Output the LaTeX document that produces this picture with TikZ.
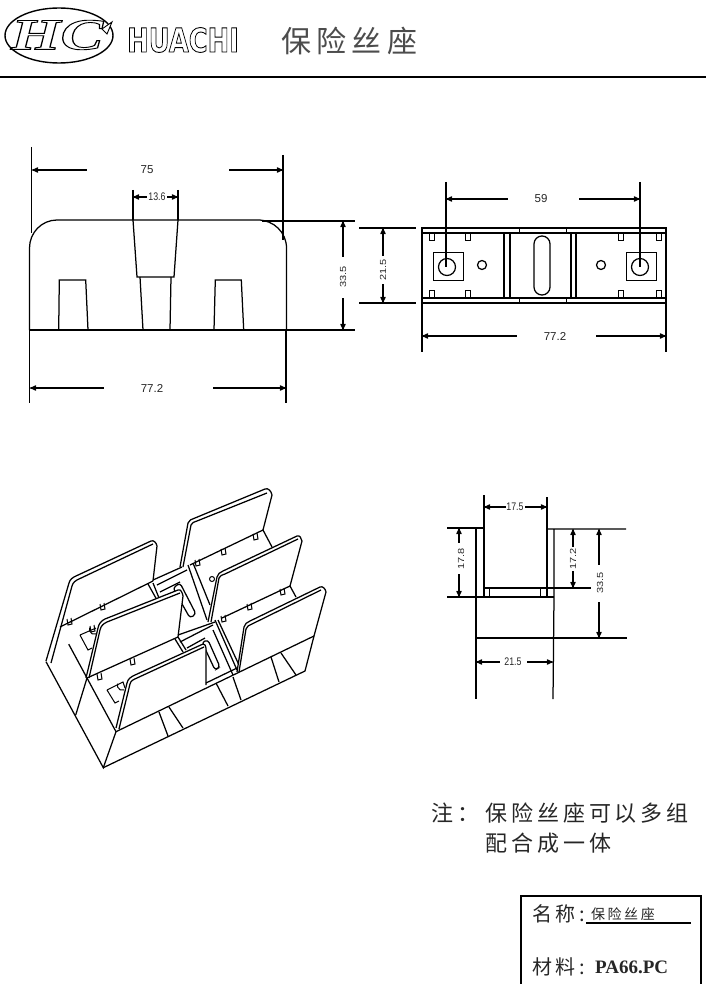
\documentclass[tikz,border=0pt]{standalone}
\usepackage{fontspec}
\setmainfont{Liberation Sans}
\newfontfamily\cjk[LetterSpace=18]{Noto Sans CJK SC}
\newfontfamily\serifb{Liberation Serif}
\newfontfamily\heavy{DejaVu Sans}
\usetikzlibrary{arrows}
\newcommand{\outl}[2]{\special{pdf:code q 1 Tr #1 w}#2\special{pdf:code Q}}

\begin{document}
\begin{tikzpicture}[x=1pt,y=-1pt,
    l/.style={line width=1.25pt},%
    t/.style={line width=1pt},%
    pl/.style={line width=1.25pt,fill=white},%
    f/.style={<-,line width=1.2pt,>=stealth'},%
    dim/.style={font=\fontsize{11.5}{12}\selectfont,text=black!85,inner sep=0pt},%
    dims/.style={font=\fontsize{11}{12}\selectfont,text=black!85,inner sep=0pt,xscale=0.8},%
    zh/.style={font=\cjk,inner sep=0pt,anchor=west,text=black!85}]
    \useasboundingbox (0,0) rectangle (706,984);
    % head
    \draw[line width=1.4pt] (59,35.5) ellipse (54 and 27.5);
    \node[inner sep=0pt,font=\serifb\bfseries\itshape\fontsize{44}{44}\selectfont,xscale=1.45] (hc) at (57,35) {\outl{0.9}{HC}};
    \draw[line width=0.9pt,fill=white] (102,29) -- (112,22) -- (107,34) -- cycle;
    \node[inner sep=0pt,font=\heavy\bfseries\fontsize{33}{33}\selectfont,xscale=0.78] (brand) at (183,40) {\outl{0.9}{HUACHI}};
    \node[zh,text=black!70,font=\cjk\fontsize{30}{30}\selectfont] (title) at (281,41) {保险丝座};
    \draw[line width=1.6pt] (0,77) -- (706,77);

    % front view
    \draw[l] (29.5,330) -- (29.5,248) to[out=90,in=180] (57,220) -- (258,220) to[out=0,in=90] (286.5,248) -- (286.5,330);
    \draw[l] (30,330) -- (355,330);
    \draw[l] (262,221) -- (355,221);
    \draw[l] (133,220) -- (137,277) -- (174,277) -- (178,220);
    \draw[l] (140,277) -- (143,330) (171,277) -- (170,330);
    \draw[l] (58.7,330) -- (59.3,280) -- (85.7,280) -- (88,330);
    \draw[l] (214,330) -- (215.3,280) -- (241.3,280) -- (243.7,330);
    \draw[l] (31.7,147) -- (31.7,233) (283,155) -- (283,240);
    \draw[l] (133,190) -- (133,220) (178,190) -- (178,220);
    \draw[l] (29.5,330) -- (29.5,403) (286,330) -- (286,403);
    \node[dim] (w75) at (147,170) {75};
    \draw[f] (32,170) -- (87,170);
    \draw[f] (283,170) -- (229,170);
    \node[dims] (w136) at (157,197) {13.6};
    \draw[f] (133,197) -- (147,197);
    \draw[f] (178,197) -- (167,197);
    \node[dim] (w772) at (152,388) {77.2};
    \draw[f] (30,388) -- (104,388);
    \draw[f] (286,388) -- (213,388);
    \node[dims,rotate=90] (h335) at (343,277) {33.5};
    \draw[f] (343,221) -- (343,257);
    \draw[f] (343,330) -- (343,298);
    \node[dims,rotate=90] (h215) at (383,270) {21.5};
    \draw[f] (383,228) -- (383,256);
    \draw[f] (383,303) -- (383,284);
    \draw[l] (359,228) -- (416,228) (359,303) -- (416,303);

    % top view
    \draw[l] (422,228) rectangle (666,303);
    \draw[l] (422,233) -- (666,233) (422,298) -- (666,298);
    \draw[t] (519,228) -- (519,233) (566,228) -- (566,233) (519,298) -- (519,303) (566,298) -- (566,303);
    \draw[l] (504,233) -- (504,298) (510,233) -- (510,298) (571,233) -- (571,298) (576,233) -- (576,298);
    \draw[l,rounded corners=7.9pt] (534,236) rectangle (550,295);
    \foreach \x in {429,465,618,656} {
      \draw[t] (\x,233) rectangle ++(5.5,7);
      \draw[t] (\x,290.5) rectangle ++(5.5,7);
    }
    \draw[t] (433,252) rectangle (463,280) (626,252) rectangle (656,280);
    \draw[l] (447,267) circle (8.5) (640,267) circle (8.5);
    \draw[l] (482,265) circle (4.5) (601,265) circle (4.5);
    \draw[l] (446,182) -- (446,267) (640,182) -- (640,267);
    \draw[l] (422,303) -- (422,352) (666,303) -- (666,352);
    \node[dim] (d59) at (541,199) {59};
    \draw[f] (446,199) -- (508,199);
    \draw[f] (640,199) -- (579,199);
    \node[dim] (t772) at (555,336) {77.2};
    \draw[f] (422,336) -- (517,336);
    \draw[f] (666,336) -- (596,336);

    % side view
    \draw[l] (447,528) -- (484,528) (484,495) -- (484,597) -- (547,597) (547,497) -- (547,597);
    \draw[l] (476,528) -- (476,699);
    \draw[l] (547,529) -- (626,529) (554,529) -- (554,597) -- (553,699);
    \draw[l] (447,597) -- (554,597) (484,588) -- (591,588);
    \draw[t] (489,588) -- (489,597) (540,588) -- (540,597);
    \draw[l] (476,638) -- (627,638);
    \node[dims] (s175) at (515,507) {17.5};
    \draw[f] (484,507) -- (506,507);
    \draw[f] (547,507) -- (525,507);
    \node[dims,rotate=90] (s178) at (461,559) {17.8};
    \draw[f] (459,528) -- (459,543);
    \draw[f] (459,597) -- (459,574);
    \node[dims,rotate=90] (s172) at (573,559) {17.2};
    \draw[f] (573,529) -- (573,547);
    \draw[f] (573,588) -- (573,571);
    \node[dims,rotate=90] (s335) at (600,583) {33.5};
    \draw[f] (599,529) -- (599,565);
    \draw[f] (599,638) -- (599,602);
    \node[dims] (s215) at (513,662) {21.5};
    \draw[f] (476,662) -- (500,662);
    \draw[f] (553,662) -- (527,662);

    % perspective view, base
    \draw[l] (46,661.7) -- (103.3,767.7) -- (116,731.7);
    \draw[l] (103.3,767.7) -- (305,671) -- (314,636);
    \draw[l] (60,628) -- (87,678) -- (116,731.7);
    \draw[l] (87,678) -- (75.7,715);
    \draw[l] (159,712) -- (168,736) (169,707) -- (183,728);
    \draw[l] (216,683) -- (228,706) (233,677) -- (241,700);
    \draw[l] (271,657) -- (279,682) (281,653) -- (296,675);

    % back plates and back slot
    \draw[pl] (180,567) -- (188,523) to[out=78,in=205] (195,518) -- (265,489) to[out=25,in=100] (272,495) -- (263,530);
    \draw[l] (183,567) -- (191,525) to[out=78,in=205] (197,521) -- (267,493);
    \draw[l] (190,565) -- (263,530) -- (272,547);
    \draw[pl] (46,661) -- (69,583) to[out=75,in=205] (76,576) -- (151,541) to[out=25,in=100] (157,546) -- (153,581);
    \draw[l] (51,663) -- (72,586) to[out=75,in=205] (79,579) -- (153,544);
    \draw[l] (60,627) -- (153,581);
    \draw[l] (148,584) -- (157,600) (153,583) -- (159,598);
    \draw[l] (153,580) -- (182,567) (157,585) -- (187,570) (160,592) -- (180,582);
    \draw[l] (188,565) -- (207,620) (193,563) -- (210,605);
    \draw[l,rounded corners=3pt] (173,588) -- (190,618) -- (196,614) -- (180,583) -- cycle;

    % middle plates
    \draw[pl] (208,622) -- (217,577) to[out=78,in=205] (223,571) -- (297,536) to[out=25,in=100] (302,541) -- (290,586);
    \draw[l] (211,622) -- (219,578) to[out=78,in=205] (225,574) -- (298,539);
    \draw[l] (222,618) -- (290,586) -- (296,597);
    \draw[pl] (86,678) -- (98,628) to[out=78,in=205] (105,619) -- (178,590) to[out=25,in=100] (183,596) -- (178,637);
    \draw[l] (89,678) -- (100,630) to[out=78,in=205] (107,622) -- (180,593);
    \draw[l] (87,678) -- (178,637);

    % front slot
    \draw[l] (175,639) -- (183,652) (178,637) -- (186,650);
    \draw[l] (178,635) -- (215,622) (180,642) -- (213,625) (187,648) -- (205,638);
    \draw[l] (215,620) -- (237,670) (218,620) -- (239,665) (213,630) -- (233,675);
    \draw[l,rounded corners=3pt] (202,642) -- (215,670) -- (220,667) -- (208,640) -- cycle;

    % front plates
    \draw[pl] (237,672) -- (244,627) to[out=78,in=205] (250,621) -- (320,587) to[out=25,in=100] (326,592) -- (314,636);
    \draw[l] (239,672) -- (246,629) to[out=78,in=205] (252,624) -- (321,590);
    \draw[pl] (116,728) -- (127,683) to[out=78,in=205] (135,675) -- (203,644) to[out=25,in=100] (206,648) -- (206,685);
    \draw[l] (119,729) -- (130,684) to[out=78,in=205] (137,678) -- (204,647);
    \draw[l] (206,683) -- (237,668);
    \draw[l] (116,731.7) -- (314,636);

    % tabs, squares
    \foreach \x/\y in {69/622,102/607,92/629,99/677,132/662,197/563,223/552,255/537,223/619,249/607,282/592} {
      \draw[t] (\x-2,\y-3) -- (\x-1,\y+3) -- (\x+3,\y+2) -- (\x+2,\y-4);
    }
    \draw[t] (107,690) -- (123,682) -- (125,688) (107,690) -- (115,703) -- (119,701);
    \draw[t] (80,635) -- (96,628) (80,635) -- (88,650) -- (92,648);
    \draw[t] (124,690) arc (70:200:5) (96,634) arc (70:200:5);
    \draw[t] (212,579) circle (2.5);

    % note
    \node[zh,font=\cjk\fontsize{22}{22}\selectfont] (note0) at (431,813) {注：};
    \node[zh,font=\cjk\fontsize{22}{22}\selectfont] (note1) at (485,813) {保险丝座可以多组};
    \node[zh,font=\cjk\fontsize{22}{22}\selectfont] (note2) at (485,843) {配合成一体};

    % title block
    \draw[line width=1.6pt] (521,984) -- (521,896) -- (701,896) -- (701,984);
    \node[zh,font=\cjk\fontsize{20}{20}\selectfont] (name) at (532,914) {名称:};
    \node[zh,font=\cjk\fontsize{14}{14}\selectfont] (namev) at (591,914) {保险丝座};
    \draw[l] (586,923) -- (691,923);
    \node[zh,font=\cjk\fontsize{20}{20}\selectfont] (mat) at (532,967) {材料:};
    \node[inner sep=0pt,anchor=west,font=\serifb\bfseries\fontsize{19}{19}\selectfont,text=black!85] (matv) at (595,967) {PA66.PC};
\end{tikzpicture}
\end{document}
